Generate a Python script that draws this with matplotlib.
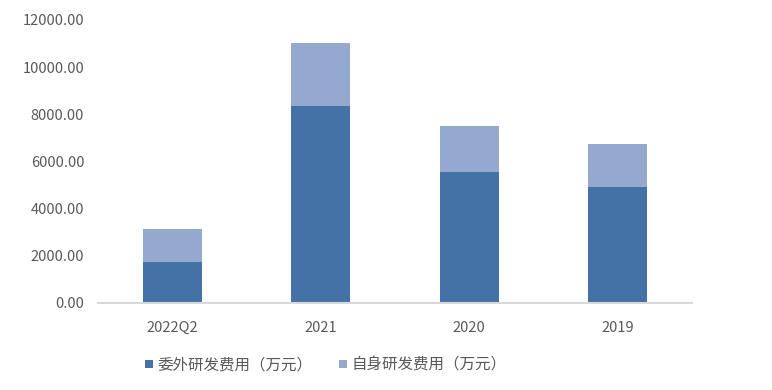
import matplotlib.pyplot as plt
import numpy as np

plt.rcParams['font.family'] = ['Noto Sans CJK SC', 'DejaVu Sans']

# data (万元)
categories = ["2022Q2", "2021", "2020", "2019"]
outsourced = [1728, 8349, 5548, 4911]
in_house = [1387, 2662, 1952, 1825]
labels = ["委外研发费用（万元）", "自身研发费用（万元）"]

dark = "#4472A7"
light = "#95A9CF"
txt = "#595959"

fig = plt.figure(figsize=(7.72, 3.9), dpi=100)
ax = fig.add_axes([0.127, 0.224, 0.7694, 0.725])

x = np.arange(len(categories))
ax.bar(x, outsourced, width=0.4, color=dark, label=labels[0], zorder=2)
ax.bar(x, in_house, width=0.4, bottom=outsourced, color=light, label=labels[1], zorder=2)

ax.set_xlim(-0.5, 3.5)
ax.set_ylim(0, 12000)
ax.set_yticks(np.arange(0, 12001, 2000))
ax.set_yticklabels([f"{v:.2f}" for v in np.arange(0, 12001, 2000)])
ax.set_xticks(x)
ax.set_xticklabels(categories)

for s in ["top", "right", "left"]:
    ax.spines[s].set_visible(False)
ax.spines["bottom"].set_color("#D9D9D9")
ax.spines["bottom"].set_linewidth(1.5)
ax.tick_params(length=0, colors=txt, labelsize=10.5)
ax.tick_params(axis="y", pad=10)
ax.tick_params(axis="x", pad=13)

leg = fig.legend(loc="center", bbox_to_anchor=(0.422, 0.064), ncol=2, frameon=False,
                 fontsize=11.2, handlelength=0.5, handleheight=0.5, handletextpad=0.3,
                 columnspacing=1.7, labelcolor=txt)

fig.savefig("out.png", dpi=100)
